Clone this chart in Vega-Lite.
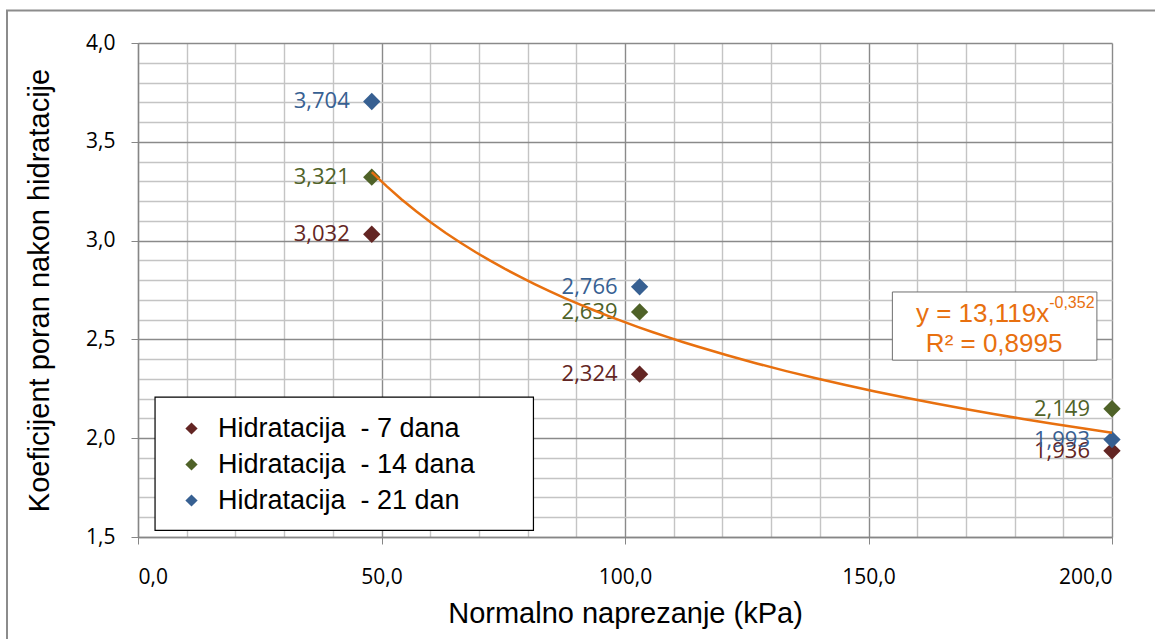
{
  "$schema": "https://vega.github.io/schema/vega-lite/v6.json",
  "width": 974,
  "height": 494,
  "autosize": {"type": "none"},
  "padding": {"left": 138, "top": 43, "right": 43, "bottom": 102},
  "background": "white",
  "config": {
    "locale": {"number": {"decimal": ",", "thousands": ".", "grouping": [3], "currency": ["", " €"]}},
    "view": {"stroke": null}
  },
  "data": {
    "values": [
      {"x": 48, "y": 3.032, "series": "Hidratacija\u00a0 - 7 dana"},
      {"x": 48, "y": 3.321, "series": "Hidratacija\u00a0 - 14 dana"},
      {"x": 48, "y": 3.704, "series": "Hidratacija\u00a0 - 21 dan"},
      {"x": 103, "y": 2.324, "series": "Hidratacija\u00a0 - 7 dana"},
      {"x": 103, "y": 2.639, "series": "Hidratacija\u00a0 - 14 dana"},
      {"x": 103, "y": 2.766, "series": "Hidratacija\u00a0 - 21 dan"},
      {"x": 200, "y": 1.936, "series": "Hidratacija\u00a0 - 7 dana"},
      {"x": 200, "y": 2.149, "series": "Hidratacija\u00a0 - 14 dana"},
      {"x": 200, "y": 1.993, "series": "Hidratacija\u00a0 - 21 dan"}
    ]
  },
  "encoding": {
    "x": {
      "field": "x", "type": "quantitative",
      "scale": {"domain": [0, 200], "nice": false},
      "axis": {
        "title": "Normalno naprezanje (kPa)",
        "titleFont": "Liberation Sans", "titleFontSize": 29, "titleFontWeight": "normal", "titleColor": "black", "titlePadding": 12,
        "values": [0,10,20,30,40,50,60,70,80,90,100,110,120,130,140,150,160,170,180,190,200],
        "format": ".1f",
        "labelExpr": "datum.value % 50 === 0 ? datum.label : ''",
        "labelFont": "Open Sans", "labelFontSize": 21, "labelColor": "black", "labelPadding": 22,
        "tickSize": 7, "tickColor": "#868686",
        "tickOpacity": {"condition": {"test": "datum.value % 50 === 0", "value": 1}, "value": 0},
        "domainColor": "#868686", "domainWidth": 1.3,
        "grid": true,
        "gridColor": {"condition": {"test": "datum.value % 50 === 0", "value": "#8a8a8a"}, "value": "#c4c4c4"},
        "gridWidth": 1.4
      }
    },
    "y": {
      "field": "y", "type": "quantitative",
      "scale": {"domain": [1.5, 4.0], "nice": false, "zero": false},
      "axis": {
        "title": "Koeficijent poran nakon hidratacije",
        "titleFont": "Liberation Sans", "titleFontSize": 29, "titleFontWeight": "normal", "titleColor": "black", "titlePadding": 31,
        "values": [1.5,1.6,1.7,1.8,1.9,2.0,2.1,2.2,2.3,2.4,2.5,2.6,2.7,2.8,2.9,3.0,3.1,3.2,3.3,3.4,3.5,3.6,3.7,3.8,3.9,4.0],
        "format": ".1f",
        "labelExpr": "round(datum.value*10) % 5 === 0 ? datum.label : ''",
        "labelFont": "Open Sans", "labelFontSize": 21, "labelColor": "black", "labelPadding": 16,
        "tickSize": 7, "tickColor": "#868686",
        "tickOpacity": {"condition": {"test": "round(datum.value*10) % 5 === 0", "value": 1}, "value": 0},
        "domainColor": "#868686", "domainWidth": 1.3,
        "grid": true,
        "gridColor": {"condition": {"test": "round(datum.value*10) % 5 === 0", "value": "#8a8a8a"}, "value": "#c4c4c4"},
        "gridWidth": 1.4
      }
    }
  },
  "layer": [
    {
      "transform": [{"filter": "datum.y === 3.704"}],
      "mark": {"type": "rect", "fill": null, "stroke": "#8c8c8c", "strokeWidth": 2, "clip": false},
      "encoding": {
        "x": {"datum": -26.9}, "x2": {"datum": 210},
        "y": {"datum": 4.164}, "y2": {"datum": 0.95}
      }
    },
    {
      "transform": [{"filter": "datum.y === 3.704"}],
      "mark": {"type": "rect", "fill": "white", "stroke": "black", "strokeWidth": 1.2},
      "encoding": {
        "x": {"datum": 3.5}, "x2": {"datum": 81.2},
        "y": {"datum": 2.208}, "y2": {"datum": 1.534}
      }
    },
    {
      "mark": {"type": "point", "shape": "diamond", "filled": true, "size": 300, "opacity": 1},
      "encoding": {
        "color": {
          "field": "series", "type": "nominal",
          "scale": {
            "domain": ["Hidratacija\u00a0 - 7 dana", "Hidratacija\u00a0 - 14 dana", "Hidratacija\u00a0 - 21 dan"],
            "range": ["#632523", "#4f6228", "#376092"]
          },
          "legend": {
            "title": null, "orient": "none", "legendX": 40, "legendY": 372,
            "padding": 0,
            "symbolType": "diamond", "symbolSize": 150, "symbolOffset": 0,
            "labelFont": "Liberation Sans", "labelFontSize": 27, "labelColor": "black", "labelOffset": 13,
            "rowPadding": 8, "labelLimit": 400
          }
        }
      }
    },
    {
      "mark": {"type": "text", "align": "right", "baseline": "middle", "dx": -22, "font": "Open Sans", "fontSize": 22},
      "encoding": {
        "text": {"field": "y", "type": "quantitative", "format": ".3f"},
        "color": {"field": "series", "type": "nominal", "legend": null}
      }
    },
    {
      "transform": [{"regression": "y", "on": "x", "method": "pow"}],
      "mark": {"type": "line", "color": "#e8700f", "strokeWidth": 2.5},
      "encoding": {}
    },
    {
      "transform": [{"filter": "datum.y === 3.704"}],
      "mark": {"type": "rect", "fill": "white", "stroke": "#6e6e6e", "strokeWidth": 1},
      "encoding": {
        "x": {"datum": 154.9}, "x2": {"datum": 196.9},
        "y": {"datum": 2.74}, "y2": {"datum": 2.395}
      }
    },
    {
      "transform": [{"filter": "datum.y === 3.704"}],
      "mark": {"type": "text", "align": "right", "baseline": "alphabetic", "font": "Liberation Sans", "fontSize": 26, "fill": "#e8700f", "text": "y = 13,119x"},
      "encoding": {"x": {"datum": 187.1}, "y": {"datum": 2.588}}
    },
    {
      "transform": [{"filter": "datum.y === 3.704"}],
      "mark": {"type": "text", "align": "left", "baseline": "alphabetic", "font": "Liberation Sans", "fontSize": 16, "fill": "#e8700f", "text": "-0,352"},
      "encoding": {"x": {"datum": 187.1}, "y": {"datum": 2.659}}
    },
    {
      "transform": [{"filter": "datum.y === 3.704"}],
      "mark": {"type": "text", "align": "center", "baseline": "alphabetic", "font": "Liberation Sans", "fontSize": 26, "fill": "#e8700f", "text": "R² = 0,8995"},
      "encoding": {"x": {"datum": 175.8}, "y": {"datum": 2.436}}
    }
  ]
}
